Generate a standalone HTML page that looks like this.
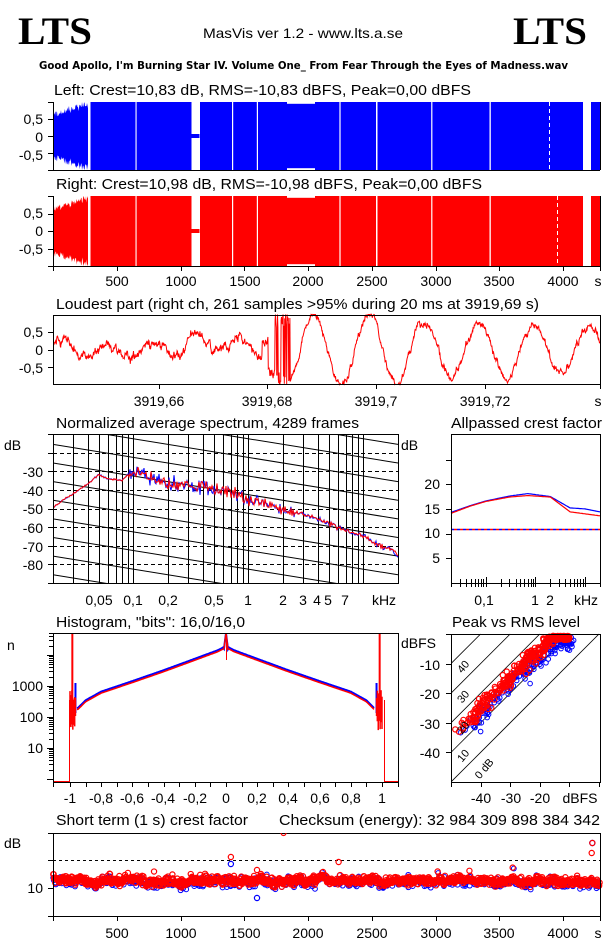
<!DOCTYPE html>
<html><head><meta charset="utf-8">
<style>
html,body{margin:0;padding:0;background:#fff;overflow:hidden;}
svg{display:block;}
text{font-family:"Liberation Sans",sans-serif;font-size:14px;fill:#000;}
.t{font-size:14.5px;}
.r{text-anchor:end;}
.m{text-anchor:middle;}
</style></head>
<body>
<svg id="s" width="606" height="946" viewBox="0 0 606 946" xmlns="http://www.w3.org/2000/svg">
<rect width="606" height="946" fill="#fff"/>
<text x="18" y="44" style="font-family:'Liberation Serif',serif;font-weight:bold;font-size:39px" textLength="74" lengthAdjust="spacingAndGlyphs">LTS</text>
<text x="513" y="44" style="font-family:'Liberation Serif',serif;font-weight:bold;font-size:39px" textLength="74" lengthAdjust="spacingAndGlyphs">LTS</text>
<text x="203" y="38" textLength="200" lengthAdjust="spacingAndGlyphs" style="font-size:14px">MasVis ver 1.2 - www.lts.a.se</text>
<text x="39" y="69" textLength="529" lengthAdjust="spacingAndGlyphs" style="font-family:'DejaVu Sans',sans-serif;font-weight:bold;font-size:11px">Good Apollo, I'm Burning Star IV. Volume One_  From Fear Through the Eyes of Madness.wav</text>

<text class="t" x="54" y="95" textLength="417" lengthAdjust="spacingAndGlyphs">Left: Crest=10,83 dB, RMS=-10,83 dBFS, Peak=0,00 dBFS</text>
<text class="t" x="56" y="189" textLength="426" lengthAdjust="spacingAndGlyphs">Right: Crest=10,98 dB, RMS=-10,98 dBFS, Peak=0,00 dBFS</text>
<text class="t" x="56" y="309" textLength="483" lengthAdjust="spacingAndGlyphs">Loudest part (right ch, 261 samples &gt;95% during 20 ms at 3919,69 s)</text>
<text class="t" x="56" y="428" textLength="303" lengthAdjust="spacingAndGlyphs">Normalized average spectrum, 4289 frames</text>
<text class="t" x="451" y="428" textLength="151" lengthAdjust="spacingAndGlyphs">Allpassed crest factor</text>
<text class="t" x="56" y="627" textLength="189" lengthAdjust="spacingAndGlyphs">Histogram, "bits": 16,0/16,0</text>
<text class="t" x="452" y="627" textLength="128" lengthAdjust="spacingAndGlyphs">Peak vs RMS level</text>
<text class="t" x="56" y="825" textLength="192" lengthAdjust="spacingAndGlyphs">Short term (1 s) crest factor</text>
<text class="t" x="279" y="825" textLength="321" lengthAdjust="spacingAndGlyphs">Checksum (energy):  32 984 309 898 384 342</text>

<g id="g"></g>

<text class="r" x="43" y="124">0,5</text><text class="r" x="43" y="142">0</text><text class="r" x="43" y="160">-0,5</text>
<text class="r" x="43" y="218">0,5</text><text class="r" x="43" y="236">0</text><text class="r" x="43" y="254">-0,5</text>
<text class="m" x="117" y="286">500</text><text class="m" x="181" y="286">1000</text><text class="m" x="245" y="286">1500</text><text class="m" x="308" y="286">2000</text><text class="m" x="372" y="286">2500</text><text class="m" x="436" y="286">3000</text><text class="m" x="499" y="286">3500</text><text class="m" x="563" y="286">4000</text><text class="m" x="598" y="286">s</text>

<text class="r" x="43" y="337">0,5</text><text class="r" x="43" y="355">0</text><text class="r" x="43" y="373">-0,5</text>
<text class="m" x="159" y="406">3919,66</text><text class="m" x="267" y="406">3919,68</text><text class="m" x="376" y="406">3919,7</text><text class="m" x="485" y="406">3919,72</text><text class="m" x="598" y="406">s</text>

<text x="4" y="450">dB</text>
<text class="r" x="43" y="477">-30</text><text class="r" x="43" y="496">-40</text><text class="r" x="43" y="514">-50</text><text class="r" x="43" y="533">-60</text><text class="r" x="43" y="552">-70</text><text class="r" x="43" y="570">-80</text>
<text class="m" x="99" y="605">0,05</text><text class="m" x="133" y="605">0,1</text><text class="m" x="168" y="605">0,2</text><text class="m" x="214" y="605">0,5</text><text class="m" x="248" y="605">1</text><text class="m" x="283" y="605">2</text><text class="m" x="303" y="605">3</text><text class="m" x="317" y="605">4</text><text class="m" x="328" y="605">5</text><text class="m" x="345" y="605">7</text><text class="m" x="384" y="605">kHz</text>

<text x="401" y="450">dB</text>
<text class="r" x="440" y="489">20</text><text class="r" x="440" y="514">15</text><text class="r" x="440" y="538">10</text><text class="r" x="440" y="563">5</text>
<text class="m" x="484" y="605">0,1</text><text class="m" x="535" y="605">1</text><text class="m" x="550" y="605">2</text><text class="m" x="586" y="605">kHz</text>

<text x="7" y="650">n</text>
<text class="r" x="43" y="691">1000</text><text class="r" x="43" y="722">100</text><text class="r" x="43" y="753">10</text>
<text class="m" x="70" y="803">-1</text><text class="m" x="101" y="803">-0,8</text><text class="m" x="132" y="803">-0,6</text><text class="m" x="163" y="803">-0,4</text><text class="m" x="195" y="803">-0,2</text><text class="m" x="226" y="803">0</text><text class="m" x="257" y="803">0,2</text><text class="m" x="288" y="803">0,4</text><text class="m" x="320" y="803">0,6</text><text class="m" x="351" y="803">0,8</text><text class="m" x="382" y="803">1</text>

<text x="401" y="648">dBFS</text>
<text class="r" x="440" y="670">-10</text><text class="r" x="440" y="699">-20</text><text class="r" x="440" y="729">-30</text><text class="r" x="440" y="758">-40</text>
<text class="m" x="481" y="803">-40</text><text class="m" x="511" y="803">-30</text><text class="m" x="540" y="803">-20</text><text class="m" x="580" y="803">dBFS</text>

<text x="4" y="848">dB</text>
<text class="r" x="43" y="893">10</text>
<text class="m" x="117" y="938">500</text><text class="m" x="181" y="938">1000</text><text class="m" x="245" y="938">1500</text><text class="m" x="308" y="938">2000</text><text class="m" x="372" y="938">2500</text><text class="m" x="436" y="938">3000</text><text class="m" x="499" y="938">3500</text><text class="m" x="563" y="938">4000</text><text class="m" x="598" y="938">s</text>
<g id="top"></g>
<text transform="translate(466,669) rotate(-50)" class="m" style="font-size:11px">40</text>
<text transform="translate(466,699) rotate(-50)" class="m" style="font-size:11px">30</text>
<text transform="translate(466,730) rotate(-50)" class="m" style="font-size:11px">20</text>
<text transform="translate(466,758) rotate(-50)" class="m" style="font-size:11px">10</text>
<text transform="translate(487,771) rotate(-50)" class="m" style="font-size:11px">0 dB</text>
</svg>
<script>
(function(){
var G=document.getElementById('g'),NS='http://www.w3.org/2000/svg';
function el(t,a){var e=document.createElementNS(NS,t);for(var k in a)e.setAttribute(k,a[k]);G.appendChild(e);return e;}
var seed=12345;function rnd(){seed|=0;seed=seed+0x6D2B79F5|0;var t=Math.imul(seed^seed>>>15,1|seed);t=t+Math.imul(t^t>>>7,61|t)^t;return((t^t>>>14)>>>0)/4294967296;}
function gs(){return (rnd()+rnd()+rnd()-1.5)*1.3;}
function line(x1,y1,x2,y2,o){var a={x1:x1,y1:y1,x2:x2,y2:y2,stroke:'#000','stroke-width':1};for(var k in o)a[k]=o[k];return el('line',a);}
function box(x1,y1,x2,y2){el('rect',{x:x1+.5,y:y1+.5,width:x2-x1,height:y2-y1,fill:'none',stroke:'#000','stroke-width':1});}
var TS=547/4290;function tx(t){return 53+t*TS;}

function wave(y0,y1,col,dashX){
  var c=(y0+y1)/2,h=(y1-y0)/2;
  var pts=[];
  for(var x=53.5;x<=88;x+=0.5){var a=0.6+0.35*(x-53)/35+0.08*gs();if(a>1)a=1;pts.push([x,a]);}
  var d='M53.5,'+c;pts.forEach(function(p){d+=' L'+p[0]+','+(c-p[1]*h);});
  d+=' L88,'+c;for(var i=pts.length-1;i>=0;i--){var p=pts[i];d+=' L'+p[0]+','+(c+Math.min(1,p[1]+0.05*gs())*h);}d+='Z';
  el('path',{d:d,fill:col});
  el('rect',{x:90.5,y:y0,width:492.5,height:y1-y0,fill:col});
  [[135.5,136.6],[232,233.2],[256.8,258],[339.4,340.6],[376,377.5],[431.2,432.4],[489.5,490.8]].forEach(function(g){el('rect',{x:g[0],y:y0,width:g[1]-g[0],height:y1-y0,fill:'#fff'});});
  el('rect',{x:191.5,y:y0,width:8.5,height:y1-y0,fill:'#fff'});
  el('rect',{x:191.5,y:c-2,width:8,height:4,fill:col});
  el('rect',{x:287,y:y0,width:28,height:1.8,fill:'#fff'});el('rect',{x:287,y:y1-1.8,width:28,height:1.8,fill:'#fff'});
  el('path',{d:'M583,'+y0+' C586,'+(c-h*0.6)+' 588,'+(c-h*0.2)+' 589.5,'+c+' C588,'+(c+h*0.2)+' 586,'+(c+h*0.6)+' 583,'+y1+' L583,'+y0+'Z',fill:'#fff'});
  el('rect',{x:589.5,y:y0,width:1.5,height:y1-y0,fill:'#fff'});
  el('rect',{x:591,y:y0,width:9,height:y1-y0,fill:col});
  if(dashX)line(dashX,y0,dashX,y1,{stroke:'#fff','stroke-dasharray':'4,3'});
  line(53.5,y0,53.5,y1);line(53,y1+.5,600,y1+.5);line(600.5,y0,600.5,y1);
  [0.5,0,-0.5].forEach(function(v){var yy=Math.round(c-v*h)+.5;line(48,yy,53,yy);});
  line(48,y1+.5,53,y1+.5);line(48,y0+.5,53,y0+.5);
}
wave(102,170,'#0000ff',549.5);
wave(196,266,'#ff0000',557.5);
for(var t=500;t<=4000;t+=500){var xx=Math.round(tx(t))+.5;line(xx,266,xx,271);}
line(53.5,266,53.5,271);line(600.5,266,600.5,271);

// loudest part
(function(){
 var c=349.5,h=35;var d='';var lp=0,lp2=0,hf=0;
 for(var x=53.5;x<=600;x+=0.4){
  lp=lp*0.8+gs()*0.2;lp2=lp2*0.97+gs()*0.03;hf=hf*0.4+gs()*0.6;
  var v;
  if(x<262){v=0.2*Math.sin((x-53)/7)+0.15*Math.sin((x-53)/23+1)+lp*0.35+lp2*1.2+hf*0.09;}
  else{var a=x<420?1.05:(x<520?0.85:0.72);v=a*Math.cos((x-314)/55*2*Math.PI)*0.95+lp*0.3+hf*0.06;
   if(x>=275&&x<290)v=(rnd()<0.5?1:-1)*(0.6+rnd()*0.5);}
  if(x>=262&&x<275)v=0.2+lp*0.5+(x>268?-0.9:0);
  if(v>1)v=1;if(v<-1)v=-1;
  d+=(d?' L':'M')+x.toFixed(1)+','+(c-v*h).toFixed(1);
 }
 el('path',{d:d,fill:'none',stroke:'#ff0000','stroke-width':1});
 box(53,315,600,384);
 [0.5,0,-0.5].forEach(function(v){var yy=Math.round(c-v*h)+.5;line(48,yy,53,yy);});
 [159,267,376,485,600].forEach(function(x){line(x+.5,384,x+.5,389);});
})();

// spectrum
(function(){
 var X0=53,X1=398,Y0=434,Y1=583;
 function fx(f){return X0+115*Math.log10(f/0.02);}
 function dy(v){return 434+(-10-v)*1.863;}
 var cp=document.createElementNS(NS,'clipPath');cp.setAttribute('id','sc');var r=document.createElementNS(NS,'rect');r.setAttribute('x',X0);r.setAttribute('y',Y0);r.setAttribute('width',X1-X0);r.setAttribute('height',Y1-Y0);cp.appendChild(r);G.appendChild(cp);
 var gg=el('g',{'clip-path':'url(#sc)'});
 function ap(t,a){var e=document.createElementNS(NS,t);for(var k in a)e.setAttribute(k,a[k]);gg.appendChild(e);return e;}
 function gl(x1,y1,x2,y2,o){var a={x1:x1,y1:y1,x2:x2,y2:y2,stroke:'#000','stroke-width':1};if(o)for(var k in o)a[k]=o[k];ap('line',a);}
 for(var q=-20;q>=-80;q-=10){var yy=Math.round(dy(q))+.5;gl(X0,yy,X1,yy,{'stroke-dasharray':'4,3'});}
 for(var k=-4;k<10;k++){var ya=463+18.63*k;gl(X0,ya,X1,ya+55.9);}
 [0.03,0.04,0.05,0.06,0.07,0.08,0.09,0.1,0.2,0.3,0.4,0.5,0.6,0.7,0.8,0.9,1,2,3,4,5,6,7,8,9,10].forEach(function(f){var xx=Math.round(fx(f))+.5;gl(xx,Y0,xx,Y1);});
 var P=[[0.02,-49.5],[0.025,-45],[0.03,-42],[0.04,-37],[0.045,-34],[0.05,-32],[0.06,-34],[0.08,-35],[0.085,-33],[0.095,-31],[0.1,-31],[0.15,-34],[0.2,-37],[0.3,-38],[0.5,-39],[0.7,-41],[1,-45],[1.5,-48],[2,-50],[3,-53],[5,-58],[8,-63],[10,-65],[15,-71],[20,-74]];
 function base(f){var lf=Math.log10(f);for(var i=0;i<P.length-1;i++){var a=Math.log10(P[i][0]),b=Math.log10(P[i+1][0]);if(lf<=b){var u=(lf-a)/(b-a);return P[i][1]+u*(P[i+1][1]-P[i][1]);}}return P[P.length-1][1];}
 var sb='',sr='';
 for(var x=X0;x<=X1;x+=1){var f=0.02*Math.pow(10,(x-X0)/115);var b=base(f);var na=(f>0.09&&f<2.5)?3.0:(f<0.09?0.4:1.2);
  var n1=gs()*na,n2=gs()*na;var vb=b+n1,vr=b+n1*0.6+n2*0.6;if(x>X1-8)vb-=1.5*(x-X1+8)/8;
  sb+=(sb?' L':'M')+x+','+dy(vb).toFixed(1);sr+=(sr?' L':'M')+x+','+dy(vr).toFixed(1);}
 ap('path',{d:sb,fill:'none',stroke:'#0000ff','stroke-width':1});
 ap('path',{d:sr,fill:'none',stroke:'#ff0000','stroke-width':1});
 box(X0,Y0,X1,Y1);
 for(var d2=-10;d2>=-90;d2-=10){var yy2=Math.round(dy(d2))+.5;line(48,yy2,53,yy2);}
})();

// allpassed crest
(function(){
 var X0=451,X1=600,Y0=434,Y1=583;
 function fx(f){return X0+49.67*Math.log10(f/0.02);}
 function dy(v){return 583-v*4.94;}
 function curve(P,col){var d='';for(var x=X0;x<=X1;x+=1){var f=0.02*Math.pow(10,(x-X0)/49.67),lf=Math.log10(f),v=P[P.length-1][1];
   for(var i=0;i<P.length-1;i++){var a=Math.log10(P[i][0]),b=Math.log10(P[i+1][0]);if(lf<=b){v=P[i][1]+(lf-a)/(b-a)*(P[i+1][1]-P[i][1]);break;}}
   d+=(d?' L':'M')+x+','+dy(v).toFixed(1);}el('path',{d:d,fill:'none',stroke:col,'stroke-width':1.2});}
 curve([[0.02,14.3],[0.05,15.7],[0.1,16.6],[0.3,17.6],[0.7,18.1],[1,17.9],[2,17.5],[5,15.2],[10,15.0],[20,14.4]],'#0000ff');
 curve([[0.02,14.1],[0.05,15.6],[0.1,16.5],[0.3,17.4],[0.7,17.7],[1,17.6],[2,17.4],[5,14.4],[10,14.0],[20,13.6]],'#ff0000');
 line(X0,529.5,X1,529.5,{stroke:'#0000ff','stroke-width':1.5,'stroke-dasharray':'3,3'});
 line(X0+3,529.5,X1,529.5,{stroke:'#ff0000','stroke-width':1.5,'stroke-dasharray':'3,3'});
 line(X0+.5,Y0,X0+.5,Y1);line(X0,Y1+.5,X1+1,Y1+.5);line(X0,Y0+.5,X1+1,Y0+.5);line(X1+.5,Y0,X1+.5,Y1);
 [5,10,15,20,25].forEach(function(v){var yy=Math.round(dy(v))+.5;line(446,yy,451,yy);});
 [0.02,0.03,0.04,0.05,0.06,0.07,0.08,0.09,0.1,0.2,0.3,0.4,0.5,0.6,0.7,0.8,0.9,1,2,3,4,5,6,7,8,9,10,20].forEach(function(f){var xx=Math.round(fx(f))+.5;var L=(f==0.1||f==1||f==10)?6:4;line(xx,Y1-L,xx,Y1);line(xx,Y1,xx,Y1+4);});
})();

// histogram
(function(){
 var X0=53,X1=398,Y0=633,Y1=782;
 function vx(v){return 226+156*v;}
 function ny(ln){return 779-31*ln;}
 var P=[[0,4.3],[0.02,4.2],[0.05,4.12],[0.2,3.84],[0.4,3.47],[0.6,3.12],[0.8,2.78],[0.9,2.5],[0.95,2.25]];
 function bl(a){for(var i=0;i<P.length-1;i++){if(a<=P[i+1][0]){return P[i][1]+(a-P[i][0])/(P[i+1][0]-P[i][0])*(P[i+1][1]-P[i][1]);}}return P[P.length-1][1];}
 var db='',dr='';
 for(var x=vx(-0.955);x<=vx(0.955);x+=1){var v=(x-226)/156,a=Math.abs(v);var l=bl(a);var yb=ny(l)-1.2,yr=ny(l)+0.3;if(a<0.015){yb=yr=Y0+(a*156)*8;}
   db+=(db?' L':'M')+x.toFixed(1)+','+yb.toFixed(1);dr+=(dr?' L':'M')+x.toFixed(1)+','+yr.toFixed(1);}
 el('path',{d:db,fill:'none',stroke:'#0000ff','stroke-width':2});
 el('path',{d:dr,fill:'none',stroke:'#ff0000','stroke-width':1.5});
 line(226.5,Y0,226.5,660,{stroke:'#ff0000'});
 [1,-1].forEach(function(sg){
  el('rect',{x:vx(sg*0.965)-1,y:683,width:2,height:30,fill:'#0000ff'});
  for(var i=0;i<6;i++){var xx=vx(sg*(1-i*0.006));el('line',{x1:xx,y1:690+rnd()*10,x2:xx,y2:720+rnd()*12,stroke:'#ff0000','stroke-width':1.5});}
  el('line',{x1:vx(sg*0.985),y1:Y0,x2:vx(sg*0.985),y2:720,stroke:'#ff0000','stroke-width':2});
  el('line',{x1:vx(sg*0.965),y1:698,x2:vx(sg*0.965),y2:716,stroke:'#ff0000','stroke-width':1.5});
 });
 el('path',{d:'M53,781.5 L69.5,781.5 L69.5,700',fill:'none',stroke:'#ff0000','stroke-width':1});
 el('path',{d:'M398,781.5 L384.5,781.5 L384.5,700',fill:'none',stroke:'#ff0000','stroke-width':1});
 box(X0,Y0,X1,Y1);
 for(var dec=0;dec<5;dec++){for(var m=1;m<10;m++){var ln=dec+Math.log10(m);var yy=ny(ln);if(yy<Y0)continue;var L=m==1?6:4;line(53-L,Math.round(yy)+.5,53,Math.round(yy)+.5);}}
 for(var v2=-1;v2<=1.001;v2+=0.1){var xx2=Math.round(vx(v2))+.5;line(xx2,Y1,xx2,Y1+5);}
 line(53.5,Y1,53.5,Y1+5);line(398.5,Y1,398.5,Y1+5);
})();

// peak vs rms
(function(){
 var X0=451,X1=600,Y0=634,Y1=782;
 function rx(r){return X0+(r+50)*2.96;}function py(p){return Y1-(p+50)*2.96;}
 var cp=document.createElementNS(NS,'clipPath');cp.setAttribute('id','pc');var r=document.createElementNS(NS,'rect');r.setAttribute('x',X0);r.setAttribute('y',Y0-3);r.setAttribute('width',X1-X0);r.setAttribute('height',Y1-Y0+3);cp.appendChild(r);G.appendChild(cp);
 var gg=el('g',{'clip-path':'url(#pc)'});
 function ap(t,a){var e=document.createElementNS(NS,t);for(var k in a)e.setAttribute(k,a[k]);gg.appendChild(e);}
 [0,10,20,30,40].forEach(function(c){ap('line',{x1:rx(-50),y1:py(-50+c),x2:rx(-c),y2:py(0),stroke:'#000','stroke-width':0.8});});
 var pts=[];
 for(var i=0;i<330;i++){var u=rnd();var rr=-49+Math.pow(u,0.6)*39;var cr=15+gs()*2.2;var p=rr+cr;if(p>-0.8)p=-0.6-rnd()*1.4;pts.push([rr,p]);}
 pts.forEach(function(q){if(rnd()<0.45)ap('circle',{cx:rx(q[0]+1+gs()),cy:py(q[1]-2+gs()*1.5),r:2.3,fill:'none',stroke:'#0000ff','stroke-width':1});});
 pts.forEach(function(q){ap('circle',{cx:rx(q[0]),cy:py(q[1]),r:2.6,fill:'none',stroke:'#ff0000','stroke-width':1.2});});
 box(X0,Y0,X1,Y1);
 [-10,-20,-30,-40,0].forEach(function(p){var yy=Math.round(py(p))+.5;line(446,yy,451,yy);});
 [-50,-40,-30,-20,-10,0].forEach(function(r2){var xx=Math.round(rx(r2))+.5;line(xx,Y1,xx,Y1+5);});
})();

// short-term crest
(function(){
 var X0=53,X1=600,Y0=833,Y1=916;
 line(X0,860.5,X1,860.5,{'stroke-dasharray':'3,3'});
 var lp=0,pts=[];
 for(var t=2;t<4288;t+=3.2){lp=lp*0.9+gs()*0.1;var bump=0;
  if(t<300)bump=2;if(t>1080&&t<1130)bump=2.5;if(t>2000&&t<2150)bump=2;if(t>2500&&t<2560)bump=2;if(t>3600&&t<3660)bump=2.5;
  var y=881-bump-lp*10+gs()*3;if(rnd()<0.015)y-=7;pts.push([tx(t),y]);}
 pts.forEach(function(q){if(rnd()<0.5)el('circle',{cx:q[0]+gs(),cy:q[1]+1.5+gs()*2,r:2.4,fill:'none',stroke:'#0000ff','stroke-width':1});});
 pts.forEach(function(q){el('circle',{cx:q[0],cy:q[1],r:2.6,fill:'none',stroke:'#ff0000','stroke-width':1.2});});
 [[tx(1395),857,'#ff0000'],[tx(1395),864,'#0000ff'],[tx(4230),843,'#0000ff'],[tx(4230),843,'#ff0000'],[tx(4225),853,'#ff0000'],[tx(2240),862,'#ff0000'],[tx(1600),870,'#ff0000'],[tx(1600),898,'#0000ff']].forEach(function(q){el('circle',{cx:q[0],cy:q[1],r:2.6,fill:'none',stroke:q[2],'stroke-width':1.2});});
 line(53.5,Y0,53.5,Y1);line(53,Y1+.5,601,Y1+.5);line(53,Y0+.5,601,Y0+.5);line(600.5,Y0,600.5,Y1);
 [833,860,888,916].forEach(function(y){line(48,y+.5,53,y+.5);});
 for(var t2=0;t2<=4000;t2+=500){var xx=Math.round(tx(t2))+.5;line(xx,Y1,xx,Y1+5);}line(600.5,Y1,600.5,Y1+5);
 el('path',{d:'M'+(tx(1808)-2.5)+',833 A2.5,2.5 0 0 0 '+(tx(1808)+2.5)+',833',fill:'none',stroke:'#ff0000','stroke-width':1.2});
})();
})();
</script>
</body></html>
